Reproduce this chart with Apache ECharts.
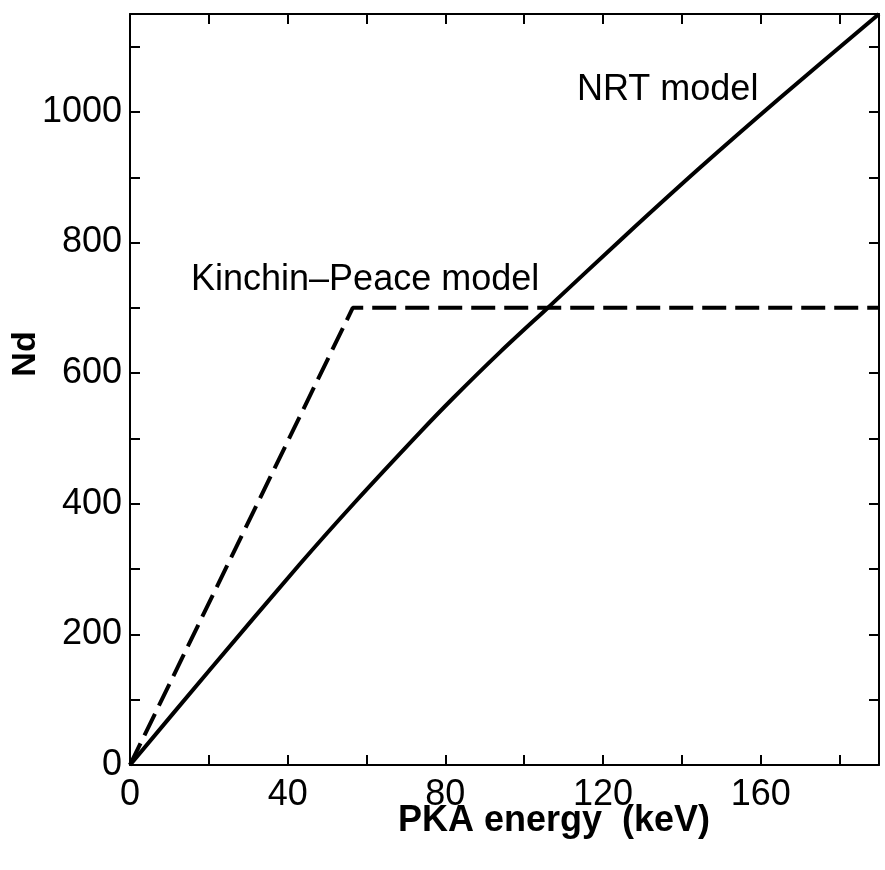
<!DOCTYPE html>
<html>
<head>
<meta charset="utf-8">
<script src="https://cdn.jsdelivr.net/npm/echarts@6/dist/echarts.min.js"></script>
<style>html,body{margin:0;padding:0;background:#fff}#c{width:885px;height:870px}</style>
</head>
<body>
<div id="c"></div>
<script>
// NRT model (solid)
var nrtEnergy = [0, 20, 43, 57, 73.5, 82, 94, 106.5, 125, 144.5, 165, 190];
var nrtNd     = [0, 144, 307, 402, 509, 562, 633, 703, 807, 914, 1022, 1150];
// Kinchin-Peace model (dashed)
var kpEnergy = [0, 56.5, 190];
var kpNd     = [0, 700, 700];
// axes
var xTickLabels = [0, 40, 80, 120, 160];
var yTickLabels = [0, 200, 400, 600, 800, 1000];
var xName = 'PKA energy  (keV)';
var yName = 'Nd';
var nrtLabel = 'NRT model';
var kpLabel = 'Kinchin\u2013Peace model';

function pairs(xs, ys){ return xs.map(function(x,i){return [x, ys[i]];}); }

var FONT = '"Liberation Sans", Arial, sans-serif';
var axisLineStyle = {color:'#000', width:2};
function xAx(pos, showLabel){
  return {
    type:'value', position:pos, min:0, max:190, interval:20,
    axisLine:{show:true, onZero:false, lineStyle:axisLineStyle},
    axisTick:{show:true, inside:true, length:10, lineStyle:{color:'#000', width:2}},
    axisLabel:{show:showLabel, color:'#000', fontSize:36, fontFamily:FONT, margin:12,
      formatter:function(v){ return xTickLabels.indexOf(v) >= 0 ? String(v) : ''; }},
    splitLine:{show:false}
  };
}
function yAx(pos, showLabel){
  return {
    type:'value', position:pos, min:0, max:1150, interval:100,
    axisLine:{show:true, onZero:false, lineStyle:axisLineStyle},
    axisTick:{show:true, inside:true, length:10, lineStyle:{color:'#000', width:2}},
    axisLabel:{show:showLabel, color:'#000', fontSize:36, fontFamily:FONT, margin:8,
      formatter:function(v){ return yTickLabels.indexOf(v) >= 0 ? String(v) : ''; }},
    splitLine:{show:false}
  };
}

var chart = echarts.init(document.getElementById('c'), null, {renderer:'canvas'});
chart.setOption({
  backgroundColor:'#fff',
  animation:false,
  grid:{left:130, right:6, top:14, bottom:105, containLabel:false},
  xAxis:[xAx('bottom', true), xAx('top', false)],
  yAxis:[yAx('left', true), yAx('right', false)],
  series:[
    {type:'line', xAxisIndex:0, yAxisIndex:0, data:pairs(nrtEnergy, nrtNd), showSymbol:false,
     smooth:0.3,
     lineStyle:{color:'#000', width:4}, clip:false},
    {type:'line', xAxisIndex:0, yAxisIndex:0, data:pairs(kpEnergy, kpNd), showSymbol:false,
     lineStyle:{color:'#000', width:4, type:[24,9]}, clip:false}
  ],
  graphic:[
    {type:'text', x:577, y:90, style:{text:nrtLabel, font:'36px '+FONT, fill:'#000', textAlign:'left', textVerticalAlign:'middle'}},
    {type:'text', x:191, y:280, style:{text:kpLabel, font:'36px '+FONT, fill:'#000', textAlign:'left', textVerticalAlign:'middle'}},
    {type:'text', x:554, y:821, style:{text:xName, font:'bold 36px '+FONT, fill:'#000', textAlign:'center', textVerticalAlign:'middle'}},
    {type:'text', x:26, y:354, rotation:Math.PI/2, style:{text:yName, font:'bold 34px '+FONT, fill:'#000', textAlign:'center', textVerticalAlign:'middle'}}
  ]
});
</script>
</body>
</html>
